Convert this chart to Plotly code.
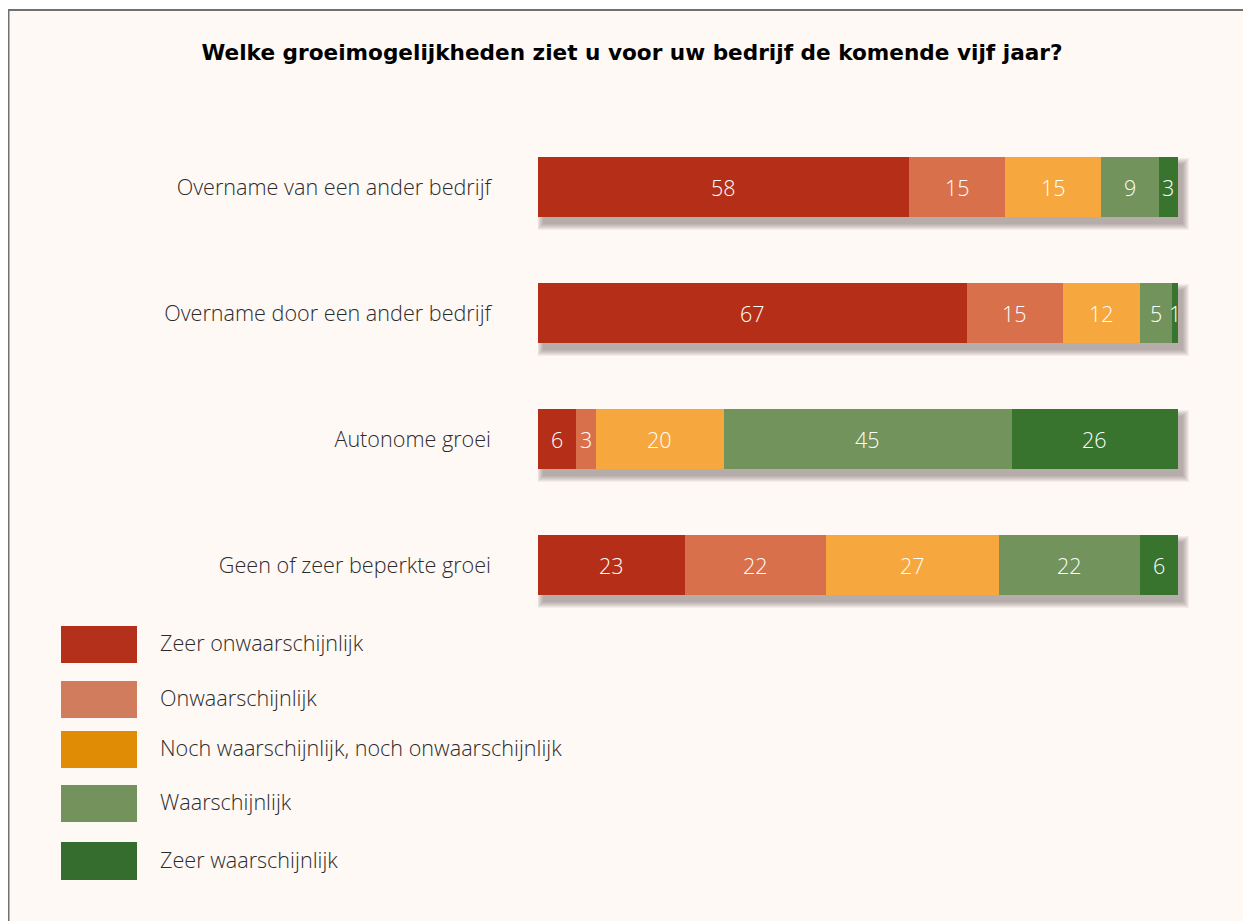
import plotly.graph_objects as go

W, H = 1251, 921
OFF = 8  # page body margin compensation (window px -> figure px)

categories = [
    "Overname van een ander bedrijf",
    "Overname door een ander bedrijf",
    "Autonome groei",
    "Geen of zeer beperkte groei",
]
series_names = [
    "Zeer onwaarschijnlijk",
    "Onwaarschijnlijk",
    "Noch waarschijnlijk, noch onwaarschijnlijk",
    "Waarschijnlijk",
    "Zeer waarschijnlijk",
]
zeer_onwaarschijnlijk = [58, 67, 6, 23]
onwaarschijnlijk = [15, 15, 3, 22]
noch = [15, 12, 20, 27]
waarschijnlijk = [9, 5, 45, 22]
zeer_waarschijnlijk = [3, 1, 26, 6]
series_values = [zeer_onwaarschijnlijk, onwaarschijnlijk, noch, waarschijnlijk, zeer_waarschijnlijk]

bar_colors = ["#B52F18", "#D9704C", "#F6A83E", "#72935C", "#38742E"]
legend_colors = ["#B5301A", "#D27C5E", "#E08C05", "#74925C", "#356D2F"]

TITLE = "Welke groeimogelijkheden ziet u voor uw bedrijf de komende vijf jaar?"
FONT = "Open Sans"
TITLE_FONT = "DejaVu Sans"
TEXT_COL = "#2b2b2b"

# pixel geometry (window coordinates from the reference)
x_left, x_right = 538, 1178
y_top, y_bot = 124, 628
band = (y_bot - y_top) / len(categories)
bar_w = 60 / band
extra = 40  # extra room on the right so the shadow is not clipped


def px(x):
    return (x - OFF) / W


def py(y):
    return 1 - (y - OFF) / H


fig = go.Figure()

totals = [sum(v[i] for v in series_values) for i in range(len(categories))]
unit_px = (x_right - x_left) / 100.0
xmax = 100 + extra / unit_px

# soft shadow layers (main axes, shifted ranges)
for s in [6, 5, 4, 3, 2, 1, 0]:
    e = s / unit_px
    fig.add_trace(go.Bar(
        y=categories, x=[t + 2 * e for t in totals], base=[-e] * len(totals),
        orientation="h", width=bar_w + 2 * s / band,
        marker=dict(color="rgba(50,40,35,0.06)", line=dict(width=0)),
        hoverinfo="skip", showlegend=False, xaxis="x", yaxis="y",
    ))

# real bars on overlaying axes
for name, vals, col in zip(series_names, series_values, bar_colors):
    fig.add_trace(go.Bar(
        y=categories, x=vals, name=name, orientation="h", width=bar_w,
        marker=dict(color=col, line=dict(width=0)),
        showlegend=False, xaxis="x2", yaxis="y2",
    ))

# value labels
annotations = []
for i, cat in enumerate(categories):
    cum = 0
    for vals in series_values:
        v = vals[i]
        annotations.append(dict(
            x=cum + v / 2, y=cat, xref="x2", yref="y2", text=str(v),
            showarrow=False, font=dict(family=FONT, size=21.5, color="white", weight=300),
            xanchor="center", yanchor="middle",
        ))
        cum += v

# legend (custom)
legend_rows = [(626, 663), (681, 718), (731, 768), (785, 822), (842, 880)]
shapes = []
# frame/background
shapes.append(dict(type="rect", xref="paper", yref="paper",
                   x0=px(OFF + 0.5), x1=1.02, y0=-0.02, y1=py(10),
                   fillcolor="#FFF9F6", line=dict(color="#707070", width=2), layer="below"))
for (y0, y1), col, name in zip(legend_rows, legend_colors, series_names):
    shapes.append(dict(type="rect", xref="paper", yref="paper",
                       x0=px(61), x1=px(137), y0=py(y1), y1=py(y0),
                       fillcolor=col, line=dict(width=0)))
    annotations.append(dict(
        x=px(158), y=py((y0 + y1) / 2 - 2), xref="paper", yref="paper", text=name,
        showarrow=False, xanchor="left", yanchor="middle",
        font=dict(family=FONT, size=21.6, color=TEXT_COL, weight=300),
    ))

shift_x = 5 / unit_px
shift_y = 7 / band

fig.update_layout(
    width=W, height=H,
    margin=dict(l=0, r=0, t=0, b=0),
    paper_bgcolor="white",
    plot_bgcolor="rgba(0,0,0,0)",
    barmode="stack",
    bargap=0,
    title=dict(text="<b>" + TITLE + "</b>", x=px(632), y=py(52), xanchor="center", yanchor="middle",
               font=dict(family=TITLE_FONT, size=21.6, color="black")),
    xaxis=dict(domain=[px(x_left), px(x_right + extra)], range=[0 - shift_x, xmax - shift_x],
               visible=False, fixedrange=True),
    yaxis=dict(domain=[py(y_bot), py(y_top)], type="category", categoryorder="array",
               categoryarray=categories, range=[3.5 - shift_y, -0.5 - shift_y],
               visible=False),
    xaxis2=dict(overlaying="x", range=[0, xmax], visible=False),
    yaxis2=dict(overlaying="y", type="category", categoryorder="array",
                categoryarray=categories, range=[3.5, -0.5], side="left",
                showgrid=False, zeroline=False, showline=False, ticks="",
                ticklabelstandoff=46,
                tickfont=dict(family=FONT, size=21.6, color=TEXT_COL, weight=300)),
    shapes=shapes,
    annotations=annotations,
    showlegend=False,
)

fig.write_html("out.html")
